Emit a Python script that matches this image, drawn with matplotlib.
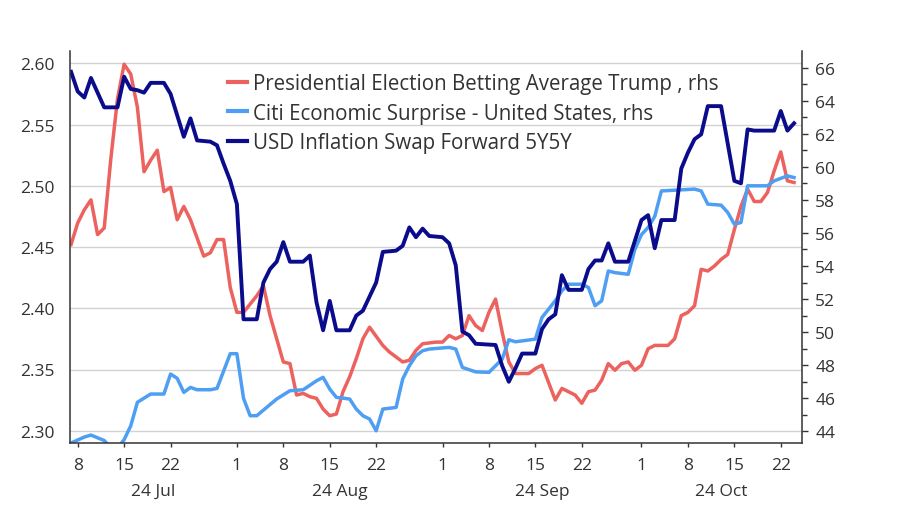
import numpy as np
import matplotlib
matplotlib.use("Agg")
import matplotlib.pyplot as plt
import matplotlib.dates as mdates
from matplotlib.transforms import blended_transform_factory
from matplotlib.ticker import FixedLocator, FuncFormatter

plt.rcParams['font.family'] = ['Open Sans', 'DejaVu Sans']

# ---------------- data ----------------
start_date = "2024-07-08"

# USD Inflation Swap Forward 5Y5Y (left axis); days since start_date
navy_days = [-1, 0, 1, 2, 3, 4, 6, 7, 8, 9, 10, 11, 13, 14, 16, 17, 18, 20, 21, 22,
             23, 24, 25, 27, 28, 29, 30, 31, 32, 34, 35, 36, 37, 38, 39, 41, 42, 43, 45, 46,
             48, 49, 50, 51, 52, 53, 55, 56, 57, 58, 59, 60, 63, 64, 65, 66, 67, 69, 70, 71,
             72, 73, 74, 76, 77, 78, 79, 80, 81, 83, 84, 85, 86, 87, 88, 90, 91, 92, 93, 94,
             95, 97, 99, 100, 101, 102, 105, 106, 107, 108]
navy_vals = [2.593, 2.577, 2.572, 2.588, 2.576, 2.564, 2.564, 2.589, 2.579, 2.578,
             2.576, 2.584, 2.584, 2.575, 2.540, 2.555, 2.537, 2.536, 2.533, 2.518,
             2.504, 2.485, 2.391, 2.391, 2.421, 2.432, 2.438, 2.454, 2.438, 2.438,
             2.443, 2.405, 2.382, 2.406, 2.382, 2.382, 2.394, 2.398, 2.421, 2.446,
             2.447, 2.451, 2.466, 2.458, 2.465, 2.459, 2.458, 2.453, 2.435, 2.381,
             2.378, 2.371, 2.370, 2.353, 2.340, 2.351, 2.363, 2.363, 2.383, 2.391,
             2.395, 2.427, 2.415, 2.415, 2.432, 2.439, 2.439, 2.453, 2.438, 2.438,
             2.455, 2.472, 2.476, 2.449, 2.472, 2.472, 2.514, 2.527, 2.538, 2.542,
             2.565, 2.565, 2.504, 2.502, 2.546, 2.545, 2.545, 2.561, 2.545, 2.551]

# Presidential Election Betting Average Trump (right axis)
red_days = [-1, 0, 1, 2, 3, 4, 5, 6, 7, 8, 9, 10, 11, 12, 13, 14, 15, 16, 17,
            19, 20, 21, 22, 23, 24, 25, 26, 27, 28, 29, 30, 31, 32, 33, 34, 35, 36, 37, 38,
            39, 40, 41, 42, 43, 44, 46, 47, 49, 50, 51, 52, 54, 55, 56, 57, 58, 59, 60, 61,
            62, 63, 64, 65, 66, 68, 69, 70, 72, 73, 75, 76, 77, 78, 79, 80, 81, 82, 83, 84,
            85, 86, 87, 89, 90, 91, 92, 93, 94, 95, 96, 97, 98, 99, 100, 101, 102, 103, 104,
            105, 106, 107, 108]
red_vals = [55.3, 56.6, 57.4, 58.0, 55.9, 56.3, 60.5, 64.1, 66.2, 65.6, 63.6, 59.7, 60.4,
            61.0, 58.5, 58.75, 56.8, 57.6, 56.8,
            54.6, 54.8, 55.6, 55.6, 52.7, 51.2, 51.2, 51.7, 52.2, 52.8, 51.0, 49.6, 48.2,
            48.1, 46.2, 46.3, 46.1, 46.0, 45.35, 44.95, 45.05, 46.4, 47.3, 48.4, 49.6, 50.3,
            49.2, 48.8, 48.2, 48.3, 48.9, 49.3, 49.4, 49.4, 49.8, 49.6, 49.8, 51.0, 50.4,
            50.1, 51.2, 52.0, 50.0, 48.2, 47.5, 47.5, 47.8, 48.0, 45.9, 46.6, 46.2, 45.7,
            46.4, 46.5, 47.1, 48.1, 47.7, 48.1, 48.2, 47.7, 48.0, 49.0, 49.2, 49.2, 49.6,
            51.0, 51.2, 51.6, 53.8, 53.7, 54.0, 54.4, 54.7, 56.2, 57.6, 58.65, 57.9, 57.9,
            58.45, 59.75, 60.9, 59.15, 59.05]

# Citi Economic Surprise - United States (right axis)
blue_days = [-1, 1, 2, 4, 5, 6, 7, 8, 9, 11, 13, 14, 15, 16, 17, 18, 20, 21, 23, 24,
             25, 26, 27, 30, 32, 34, 36, 37, 38, 39, 41, 42, 43, 44, 45, 46, 48, 49, 50, 51,
             52, 53, 56, 57, 58, 60, 62, 64, 65, 66, 69, 70, 72, 73, 74, 76, 77, 78, 79, 80,
             81, 83, 84, 85, 86, 87, 88, 93, 94, 95, 97, 98, 99, 100, 101, 104, 105, 107, 108]
blue_vals = [43.3, 43.66, 43.78, 43.45, 43.0, 43.0, 43.5, 44.34, 45.76, 46.26,
             46.26, 47.47, 47.21, 46.36, 46.66, 46.52, 46.52, 46.6, 48.7, 48.7,
             46.0, 44.95, 44.95, 45.96, 46.46, 46.52, 47.06, 47.27, 46.56, 46.06,
             45.96, 45.35, 44.95, 44.75, 44.04, 45.35, 45.45, 47.17, 47.97, 48.57,
             48.88, 48.98, 49.08, 48.98, 47.87, 47.6, 47.57, 48.37, 49.54, 49.42,
             49.58, 50.89, 51.9, 52.5, 52.9, 52.9, 52.7, 51.6, 51.9, 53.7,
             53.6, 53.5, 55.0, 55.9, 56.33, 57.0, 58.54, 58.65, 58.54, 57.74,
             57.68, 57.24, 56.53, 56.63, 58.85, 58.85, 59.15, 59.45, 59.35]

labels = ["Presidential Election Betting Average Trump , rhs",
          "Citi Economic Surprise - United States, rhs",
          "USD Inflation Swap Forward 5Y5Y"]

left_ticks = [2.30, 2.35, 2.40, 2.45, 2.50, 2.55, 2.60]
right_ticks = [44, 46, 48, 50, 52, 54, 56, 58, 60, 62, 64, 66]
x_tick_dates = ["2024-07-08", "2024-07-15", "2024-07-22", "2024-08-01", "2024-08-08",
                "2024-08-15", "2024-08-22", "2024-09-01", "2024-09-08", "2024-09-15",
                "2024-09-22", "2024-10-01", "2024-10-08", "2024-10-15", "2024-10-22"]
month_starts = ["2024-08-01", "2024-09-01", "2024-10-01"]
month_labels = ["24 Jul", "24 Aug", "24 Sep", "24 Oct"]

# ---------------- styling ----------------
RED = "#EC625E"
BLUE = "#4E9FF3"
NAVY = "#0B0C8C"
TXT = "#333333"
GRID = "#d2d2d2"
SPINE = "#333333"


def to_dates(days):
    return np.datetime64(start_date) + np.array(days).astype("timedelta64[D]")


fig = plt.figure(figsize=(9, 5.1), dpi=100)
fig.patch.set_facecolor("white")
ax = fig.add_axes([70 / 900, 66 / 510, 732 / 900, 392 / 510])
ax2 = ax.twinx()
ax.set_zorder(3)
ax.patch.set_visible(False)

l_red, = ax2.plot(to_dates(red_days), red_vals, color=RED, lw=2.5, label=labels[0])
l_blue, = ax2.plot(to_dates(blue_days), blue_vals, color=BLUE, lw=2.5, label=labels[1])
l_navy, = ax.plot(to_dates(navy_days), navy_vals, color=NAVY, lw=2.8, label=labels[2])

x0 = mdates.date2num(np.datetime64(start_date))
ax.set_xlim(x0 - 1.16, x0 + 109.2)
ax.set_ylim(2.29, 2.61)
ax2.set_ylim(43.3, 67.0)

# gridlines at left-axis ticks, drawn beneath all lines
gtrans = blended_transform_factory(ax2.transAxes, ax.transData)
for t in left_ticks:
    ax2.plot([0, 1], [t, t], transform=gtrans, color=GRID, lw=1.0, zorder=0.5)

# left axis
ax.yaxis.set_major_locator(FixedLocator(left_ticks))
ax.yaxis.set_major_formatter(FuncFormatter(lambda v, _: f"{v:.2f}"))
ax.tick_params(axis="y", which="both", length=0, pad=11, labelsize=12.5, labelcolor=TXT)

# right axis
ax2.yaxis.set_major_locator(FixedLocator(right_ticks))
ax2.yaxis.set_minor_locator(FixedLocator([v + 1 for v in right_ticks[:-1]]))
ax2.yaxis.set_major_formatter(FuncFormatter(lambda v, _: f"{v:.0f}"))
ax2.tick_params(axis="y", which="major", length=4.5, width=1.0, color=SPINE, pad=5,
                labelsize=12.5, labelcolor=TXT)
ax2.tick_params(axis="y", which="minor", length=3.5, width=1.0, color=SPINE)

# x axis
ax.xaxis.set_major_locator(FixedLocator(mdates.date2num(np.array(x_tick_dates, dtype="datetime64[D]"))))
ax.xaxis.set_major_formatter(FuncFormatter(lambda v, _: str(mdates.num2date(v).day)))
ax.tick_params(axis="x", which="major", length=3, width=1.0, color=SPINE, pad=7,
               labelsize=12.5, labelcolor=TXT)

# spines
for a in (ax, ax2):
    a.spines["top"].set_visible(False)
ax.spines["right"].set_visible(False)
ax2.spines["left"].set_visible(False)
ax2.spines["bottom"].set_visible(False)
for s in ("left", "bottom"):
    ax.spines[s].set_color(SPINE)
    ax.spines[s].set_linewidth(1.1)
ax2.spines["right"].set_color(SPINE)
ax2.spines["right"].set_linewidth(1.1)

# month labels centered under each visible month span
xl = ax.get_xlim()
bounds = [xl[0]] + list(mdates.date2num(np.array(month_starts, dtype="datetime64[D]"))) + [xl[1]]
for i, lab in enumerate(month_labels):
    c = 0.5 * (bounds[i] + bounds[i + 1])
    ax.annotate(lab, xy=(c, 0), xycoords=("data", "axes fraction"),
                xytext=(0, -34.5), textcoords="offset points",
                ha="center", va="center", fontsize=12.5, color=TXT)

leg = ax.legend(handles=[l_red, l_blue, l_navy], loc="upper left",
                bbox_to_anchor=(228 / 900, 1 - 74 / 510), bbox_transform=fig.transFigure,
                frameon=False, fontsize=14.8, handlelength=0.92, handletextpad=0.3,
                labelspacing=0.42, borderpad=0, borderaxespad=0)
for t in leg.get_texts():
    t.set_color(TXT)
for h in leg.legend_handles:
    h.set_linewidth(3.0)

fig.savefig("out.png", dpi=100, facecolor="white")
